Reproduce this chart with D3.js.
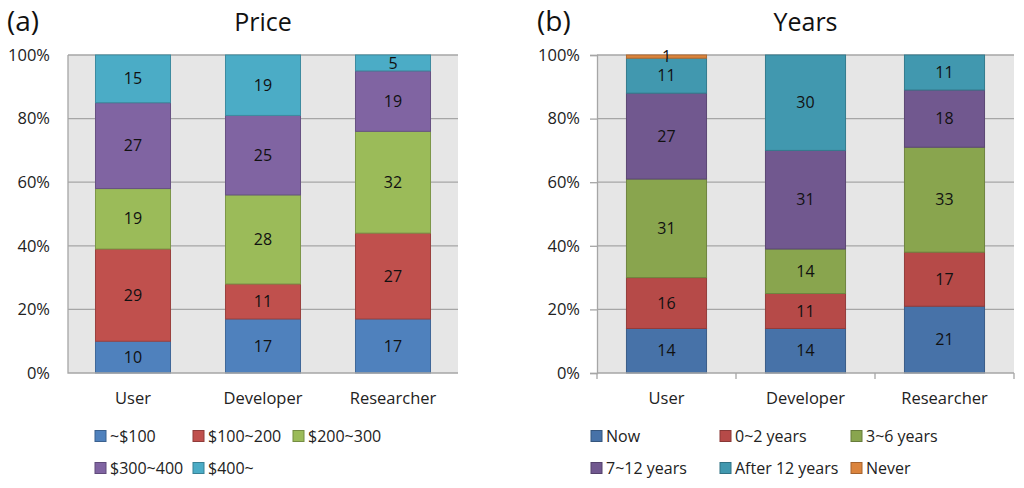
<!DOCTYPE html>
<html>
<head>
<meta charset="utf-8">
<script src="https://cdn.jsdelivr.net/npm/d3@7"></script>
<style>
  body { margin: 0; background: #fff; }
  svg { font-family: "Open Sans", "Noto Sans", sans-serif; }
</style>
</head>
<body>
<svg id="chart" width="1024" height="488"></svg>
<script>
// categories
const groups = ["User", "Developer", "Researcher"];
const yTicks = [0, 20, 40, 60, 80, 100];

// (a) Price
const priceKeys = ["~$100", "$100~200", "$200~300", "$300~400", "$400~"];
const priceUser = [10, 29, 19, 27, 15];
const priceDeveloper = [17, 11, 28, 25, 19];
const priceResearcher = [17, 27, 32, 19, 5];

// (b) Years
const yearKeys = ["Now", "0~2 years", "3~6 years", "7~12 years", "After 12 years", "Never"];
const yearUser = [14, 16, 31, 27, 11, 1];
const yearDeveloper = [14, 11, 14, 31, 30, 0];
const yearResearcher = [21, 17, 33, 18, 11, 0];

const priceColors = ["#4f81bd", "#c0504d", "#9bbb59", "#8064a2", "#4bacc6"];
const yearColors = ["#4772a8", "#b64a48", "#89a54e", "#71588f", "#4198af", "#db843d"];

const svg = d3.select("#chart");

function drawPanel(opt) {
  const { keys, rows, colors, left, right, top, bottom, tag, title, axisStyle } = opt;

  const table = groups.map((g, i) => {
    const o = { group: g };
    keys.forEach((k, j) => o[k] = rows[i][j]);
    return o;
  });
  const series = d3.stack().keys(keys)(table);

  const x = d3.scaleBand().domain(groups).range([left, right])
    .paddingInner(opt.gap).paddingOuter(opt.gap / 2);
  const y = d3.scaleLinear().domain([0, 100]).range([bottom, top]);

  const g = svg.append("g");

  // plot background
  g.append("rect")
    .attr("x", left).attr("y", top)
    .attr("width", right - left).attr("height", bottom - top)
    .attr("fill", "#e6e6e6");

  // gridlines
  g.append("g").selectAll("line")
    .data(yTicks.filter(d => d > 0))
    .join("line")
    .attr("x1", left).attr("x2", right)
    .attr("y1", d => y(d)).attr("y2", d => y(d))
    .attr("stroke", "#a6a6a6").attr("stroke-width", 1.3);

  // bars
  g.append("g").selectAll("g")
    .data(series)
    .join("g")
    .attr("fill", (d, i) => colors[i])
    .attr("stroke", (d, i) => d3.color(colors[i]).darker(0.6))
    .selectAll("rect")
    .data(d => d)
    .join("rect")
    .attr("x", d => x(d.data.group))
    .attr("width", x.bandwidth())
    .attr("y", d => y(d[1]))
    .attr("height", d => y(d[0]) - y(d[1]));

  // value labels
  g.append("g").selectAll("g")
    .data(series)
    .join("g")
    .selectAll("text")
    .data(d => d.filter(v => v[1] - v[0] > 0))
    .join("text")
    .attr("x", d => x(d.data.group) + x.bandwidth() / 2)
    .attr("y", d => (y(d[0]) + y(d[1])) / 2)
    .attr("dy", "0.35em")
    .attr("text-anchor", "middle")
    .attr("font-size", 16)
    .attr("fill", "#111")
    .text(d => d[1] - d[0]);

  // axes
  if (axisStyle === "box") {
    g.append("path")
      .attr("d", `M${left},${top}V${bottom}H${right}`)
      .attr("fill", "none").attr("stroke", "#a6a6a6").attr("stroke-width", 1.3);
  } else {
    const ya = g.append("g").attr("transform", `translate(${left},0)`)
      .call(d3.axisLeft(y).tickValues(yTicks).tickSize(7).tickFormat(""));
    ya.select(".domain").attr("stroke", "#a6a6a6").attr("stroke-width", 1.3);
    ya.selectAll(".tick line").attr("stroke", "#a6a6a6").attr("stroke-width", 1.3);
    const bounds = groups.map(d => x(d) - x.step() * opt.gap / 2).concat([right]);
    g.append("line")
      .attr("x1", left).attr("x2", right).attr("y1", bottom).attr("y2", bottom)
      .attr("stroke", "#a6a6a6").attr("stroke-width", 1.3);
    g.append("g").selectAll("line").data(bounds).join("line")
      .attr("x1", d => d).attr("x2", d => d)
      .attr("y1", bottom).attr("y2", bottom + 6)
      .attr("stroke", "#a6a6a6").attr("stroke-width", 1.3);
  }

  // y tick labels
  g.append("g").selectAll("text")
    .data(yTicks)
    .join("text")
    .attr("x", opt.yLabelX)
    .attr("y", d => y(d))
    .attr("dy", "0.35em")
    .attr("text-anchor", "end")
    .attr("font-size", 16.5)
    .attr("fill", "#222")
    .text(d => d + "%");

  // x labels
  g.append("g").selectAll("text")
    .data(groups)
    .join("text")
    .attr("x", d => x(d) + x.bandwidth() / 2)
    .attr("y", bottom + 25)
    .attr("dy", "0.35em")
    .attr("text-anchor", "middle")
    .attr("font-size", 16.5)
    .attr("fill", "#222")
    .text(d => d);

  // title and tag
  g.append("text")
    .attr("x", (left + right) / 2).attr("y", 31)
    .attr("text-anchor", "middle")
    .attr("font-size", 25).attr("fill", "#111")
    .text(title);
  g.append("text")
    .attr("x", opt.tagX).attr("y", 31)
    .attr("font-size", 28).attr("fill", "#111")
    .text(tag);

  // legend (flow layout, two rows)
  const lg = g.append("g").selectAll("g")
    .data(keys)
    .join("g")
    .attr("transform", (d, i) =>
      `translate(${opt.legendX + opt.legendCols[i % 3]},${i < 3 ? 436 : 468})`);
  lg.append("rect")
    .attr("x", 0).attr("y", -5.5).attr("width", 11).attr("height", 11)
    .attr("fill", (d, i) => colors[i])
    .attr("stroke", (d, i) => d3.color(colors[i]).darker(0.8));
  lg.append("text")
    .attr("x", 15).attr("dy", "0.35em")
    .attr("font-size", 16).attr("fill", "#222")
    .text(d => d);
}

drawPanel({
  keys: priceKeys,
  rows: [priceUser, priceDeveloper, priceResearcher],
  colors: priceColors,
  left: 68, right: 458, top: 55, bottom: 373, gap: 0.423,
  axisStyle: "box", yLabelX: 50,
  title: "Price", tag: "(a)", tagX: 7,
  legendX: 95, legendCols: [0, 98, 198]
});

drawPanel({
  keys: yearKeys,
  rows: [yearUser, yearDeveloper, yearResearcher],
  colors: yearColors,
  left: 597, right: 1014, top: 55, bottom: 373, gap: 0.424,
  axisStyle: "ticks", yLabelX: 580,
  title: "Years", tag: "(b)", tagX: 537,
  legendX: 591, legendCols: [0, 129, 260]
});
</script>
</body>
</html>
